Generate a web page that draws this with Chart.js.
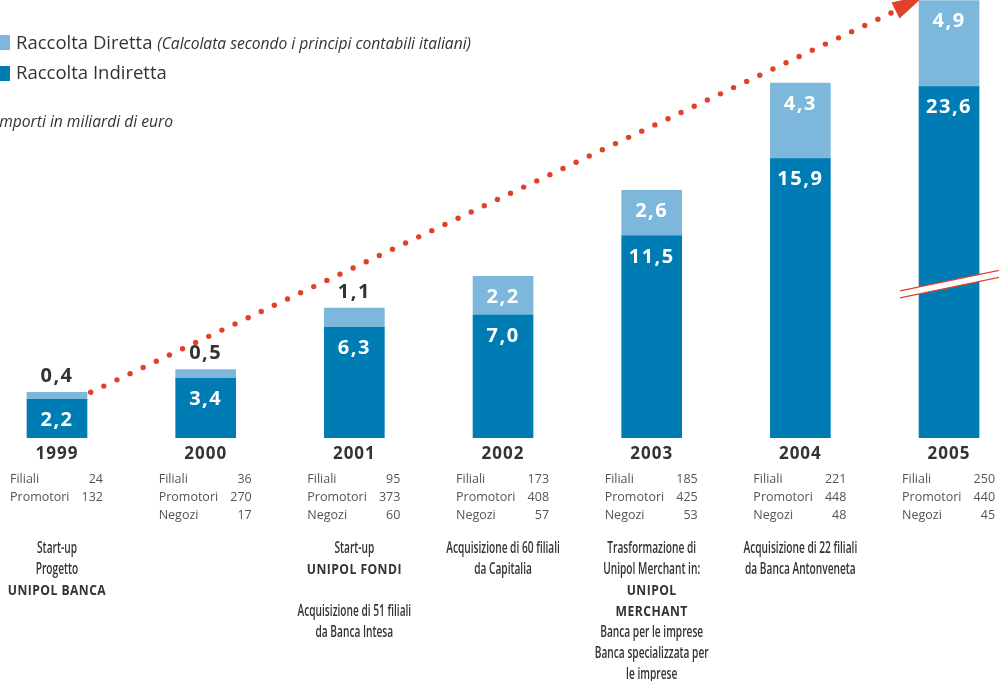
<!DOCTYPE html>
<html lang="it">
<head>
<meta charset="UTF-8">
<title>Raccolta Diretta e Indiretta</title>
<script src="https://cdn.jsdelivr.net/npm/chart.js@4"></script>
<style>
    body { margin: 0; background: #fff; overflow: hidden; }
    .wrap { position: relative; width: 999px; height: 681px; }
</style>
</head>
<body>
<div class="wrap"><canvas id="myChart" width="999" height="681"></canvas></div>

<script>
    // dati (miliardi di euro)
    const anni = ['1999', '2000', '2001', '2002', '2003', '2004', '2005'];
    const raccoltaIndiretta = [2.2, 3.4, 6.3, 7.0, 11.5, 15.9, 23.6];
    const raccoltaDiretta = [0.4, 0.5, 1.1, 2.2, 2.6, 4.3, 4.9];
    const taglioAsse = [0, 0, 0, 0, 0, 0, 3.6]; // quota tolta dall'interruzione della barra 2005
    const filiali = [24, 36, 95, 173, 185, 221, 250];
    const promotori = [132, 270, 373, 408, 425, 448, 440];
    const negozi = [null, 17, 60, 57, 53, 48, 45];
    const note = [
        ['Start-up', 'Progetto', '*UNIPOL BANCA'],
        [],
        ['Start-up', '*UNIPOL FONDI', '', 'Acquisizione di 51 filiali', 'da Banca Intesa'],
        ['Acquisizione di 60 filiali', 'da Capitalia'],
        ['Trasformazione di', 'Unipol Merchant in:', '*UNIPOL', '*MERCHANT', 'Banca per le imprese', 'Banca specializzata per', 'le imprese'],
        ['Acquisizione di 22 filiali', 'da Banca Antonveneta'],
        []
    ];

    const BLU = '#007cb5';
    const AZZURRO = '#7db8dc';
    const ROSSO = '#e04128';
    const TESTO = '#333333';
    const FONT = "'Open Sans', 'Noto Sans', sans-serif";

    function fmt(v) {
        return v.toFixed(1).replace('.', ',');
    }

    function testoStretto(ctx, t, x, y, font, sx) {
        ctx.save();
        ctx.translate(x, y);
        ctx.scale(sx, 1);
        ctx.font = font;
        ctx.textAlign = 'center';
        ctx.fillText(t, 0, 0);
        ctx.restore();
    }

    const disegni = {
        id: 'disegni',
        afterDatasetsDraw(chart) {
            const ctx = chart.ctx;
            const ys = chart.scales.y;
            const metaI = chart.getDatasetMeta(0);
            const metaD = chart.getDatasetMeta(1);

            // interruzione barra 2005
            const bar = metaI.data[6];
            const yb = ys.getPixelForValue(8.14);
            const m = -0.209;
            const xa = bar.x - 49, xb = bar.x + 52;
            ctx.save();
            ctx.fillStyle = '#fff';
            ctx.beginPath();
            ctx.moveTo(xa, yb - 4);
            ctx.lineTo(xb, yb - 4 + m * (xb - xa));
            ctx.lineTo(xb, yb + 3 + m * (xb - xa));
            ctx.lineTo(xa, yb + 3);
            ctx.closePath();
            ctx.fill();
            ctx.strokeStyle = ROSSO;
            ctx.lineWidth = 1.3;
            ctx.beginPath();
            ctx.moveTo(xa, yb - 4);
            ctx.lineTo(xb, yb - 4 + m * (xb - xa));
            ctx.moveTo(xa, yb + 3);
            ctx.lineTo(xb, yb + 3 + m * (xb - xa));
            ctx.stroke();
            ctx.restore();

            // etichette valori
            ctx.save();
            ctx.font = 'bold 20px ' + FONT;
            ctx.letterSpacing = '1.5px';
            ctx.textAlign = 'center';
            ctx.textBaseline = 'middle';
            for (let i = 0; i < anni.length; i++) {
                const bi = metaI.data[i];
                const bd = metaD.data[i];
                ctx.fillStyle = '#fff';
                ctx.fillText(fmt(raccoltaIndiretta[i]), bi.x, bi.y + 21);
                const h = bi.y - bd.y;
                if (h < 25) {
                    ctx.fillStyle = TESTO;
                    ctx.fillText(fmt(raccoltaDiretta[i]), bd.x, bd.y - 16);
                } else {
                    ctx.fillStyle = '#fff';
                    ctx.fillText(fmt(raccoltaDiretta[i]), bd.x, bd.y + 21);
                }
            }
            ctx.restore();

            // freccia di tendenza
            const x0 = 90.7, y0 = 392.3, x1 = 891, y1 = 13, passi = 61;
            ctx.save();
            ctx.fillStyle = ROSSO;
            for (let k = 0; k <= passi; k++) {
                const t = k / passi;
                ctx.beginPath();
                ctx.arc(x0 + (x1 - x0) * t, y0 + (y1 - y0) * t, 2.7, 0, Math.PI * 2);
                ctx.fill();
            }
            ctx.beginPath();
            ctx.moveTo(891.5, 2.5);
            ctx.lineTo(925, -5);
            ctx.lineTo(899.5, 18.5);
            ctx.closePath();
            ctx.fill();
            ctx.restore();
        },
        afterDraw(chart) {
            const ctx = chart.ctx;
            const xs = chart.scales.x;

            // legenda
            ctx.save();
            ctx.fillStyle = AZZURRO;
            ctx.fillRect(0, 35, 10, 15);
            ctx.fillStyle = BLU;
            ctx.fillRect(0, 66, 10, 15);
            ctx.fillStyle = TESTO;
            ctx.textBaseline = 'middle';
            ctx.textAlign = 'left';
            ctx.font = '18.5px ' + FONT;
            ctx.fillText('Raccolta Diretta', 16, 44);
            const w = ctx.measureText('Raccolta Diretta ').width;
            ctx.font = 'italic 15.6px ' + FONT;
            ctx.fillText('(Calcolata secondo i principi contabili italiani)', 16 + w, 45);
            ctx.font = '18.5px ' + FONT;
            ctx.fillText('Raccolta Indiretta', 16, 74);
            ctx.font = 'italic 15.6px ' + FONT;
            ctx.fillText('Importi in miliardi di euro', -5, 123);

            // anni, tabelle e note sotto le barre
            for (let i = 0; i < anni.length; i++) {
                const cx = xs.getPixelForValue(i);
                ctx.textAlign = 'center';
                ctx.fillStyle = TESTO;
                ctx.font = 'bold 17px ' + FONT;
                ctx.letterSpacing = '1px';
                ctx.fillText(anni[i], cx, 454);
                ctx.letterSpacing = '0px';

                ctx.fillStyle = '#555';
                ctx.font = '12.5px ' + FONT;
                const righe = [['Filiali', filiali[i]], ['Promotori', promotori[i]], ['Negozi', negozi[i]]];
                righe.forEach((r, k) => {
                    if (r[1] === null) return;
                    const y = 479 + k * 18;
                    ctx.textAlign = 'left';
                    ctx.fillText(r[0], cx - 47, y);
                    ctx.textAlign = 'right';
                    ctx.fillText(String(r[1]), cx + 46, y);
                });

                ctx.fillStyle = TESTO;
                ctx.textAlign = 'center';
                note[i].forEach((t, k) => {
                    if (!t) return;
                    const y = 549 + k * 21;
                    if (t[0] === '*') {
                        ctx.letterSpacing = '0.5px';
                        testoStretto(ctx, t.slice(1), cx, y, 'bold 13.5px ' + FONT, 0.9);
                        ctx.letterSpacing = '0px';
                    } else {
                        testoStretto(ctx, t, cx, y, '600 15.5px ' + FONT, 0.655);
                    }
                });
            }
            ctx.restore();
        }
    };

    function criarGrafico() {
        const chartData = {
            datasets: [{
                label: 'Raccolta Indiretta',
                data: raccoltaIndiretta.map((v, i) => ({ x: i, y: v - taglioAsse[i] })),
                backgroundColor: BLU,
                barThickness: 60
            }, {
                label: 'Raccolta Diretta',
                data: raccoltaDiretta.map((v, i) => ({ x: i, y: v })),
                backgroundColor: AZZURRO,
                barThickness: 60
            }]
        };
        const options = {
            responsive: false,
            animation: false,
            devicePixelRatio: 1,
            layout: { padding: { top: 0, left: 0, right: 0, bottom: 243 } },
            plugins: { legend: { display: false }, tooltip: { enabled: false } },
            scales: {
                x: { type: 'linear', min: -0.3834, max: 6.336, offset: false, stacked: true, display: false },
                y: { min: 0, max: 24.93, stacked: true, display: false }
            }
        };
        new Chart(document.getElementById('myChart'), {
            type: 'bar',
            data: chartData,
            options: options,
            plugins: [disegni]
        });
    }

    criarGrafico();
</script>
</body>
</html>
